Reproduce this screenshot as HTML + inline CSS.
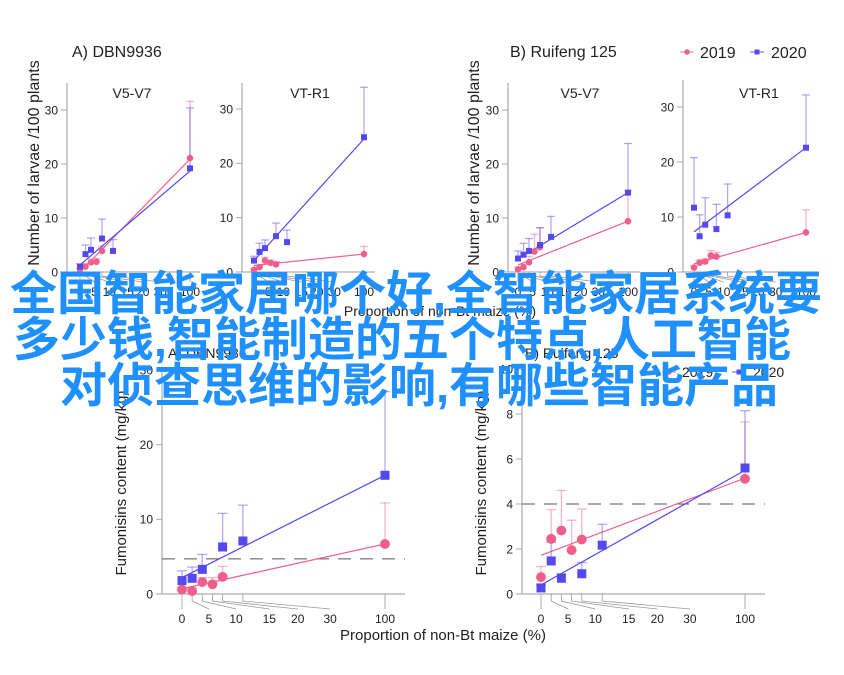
<!DOCTYPE html>
<html><head><meta charset="utf-8"><style>
html,body{margin:0;padding:0;background:#fff;}
#wrap{position:relative;width:844px;height:675px;overflow:hidden;background:#fff;}
svg text{font-family:"Liberation Sans",Arial,sans-serif;fill:#222;}
#overlay{position:absolute;left:0;top:271px;width:844px;font-family:"Liberation Sans","Noto Sans CJK SC",sans-serif;font-weight:bold;font-size:47px;line-height:46px;color:#1e90ff;text-align:center;}
#overlay div{white-space:nowrap;}
</style></head><body>
<div id="wrap">
<svg id="chart" width="844" height="675"></svg>
<div id="overlay">
<div style="margin-left:-12px">全国智能家居哪个好,全智能家居系统要</div>
<div style="margin-left:-40px">多少钱,智能制造的五个特点,人工智能</div>
<div style="margin-left:-6px">对侦查思维的影响,有哪些智能产品</div>
</div>
</div>
<script>
// ---- data ----
const xCats = [0, 5, 10, 15, 20, 30, 100];
const xTickLabels = ["0","5","10","15","20","30","100"];
const x2019 = [0, 5, 10, 15, 20, 100];
const x2020 = [0, 5, 10, 20, 30, 100];
// Panel A V5-V7 (larvae)
const aV5_2019 = [0.5, 1.0, 1.8, 1.9, 3.9, 21.1];
const aV5_2019err = [0.8, 1.5, 2.4, 2.5, 4.8, 31.6];
const aV5_2020 = [1.0, 3.3, 4.1, 6.2, 3.9, 19.2];
const aV5_2020err = [1.5, 5.0, 6.3, 9.8, 6.0, 30.4];
const aV5_fit2019 = [0, 20.9];
const aV5_fit2020 = [1.3, 18.7];
// Panel A VT-R1
const aVT_2019 = [0.4, 0.9, 2.1, 1.7, 1.4, 3.3];
const aVT_2019err = [0.6, 1.2, 2.7, 2.2, 1.9, 4.7];
const aVT_2020 = [2.1, 3.7, 4.4, 6.6, 5.5, 24.8];
const aVT_2020err = [2.9, 5.3, 5.9, 9.0, 7.7, 34.0];
const aVT_fit2019 = [1.2, 3.3];
const aVT_fit2020 = [2.1, 24.5];
// Panel B V5-V7
const bV5_2019 = [0.5, 0.9, 1.8, 3.8, 4.6, 9.4];
const bV5_2019err = [0.9, 1.4, 2.9, 7.0, 8.2, 15.0];
const bV5_2020 = [2.5, 3.2, 3.9, 5.0, 6.5, 14.7];
const bV5_2020err = [3.9, 5.3, 6.2, 8.2, 10.3, 23.8];
const bV5_fit2019 = [1.3, 9.4];
const bV5_fit2020 = [2.4, 14.7];
// Panel B VT-R1
const bVT_2019 = [0.8, 1.7, 1.9, 3.0, 2.8, 7.2];
const bVT_2019err = [1.1, 2.2, 2.4, 3.9, 3.6, 11.3];
const bVT_2020 = [11.7, 6.5, 8.6, 7.8, 10.3, 22.6];
const bVT_2020err = [20.8, 10.4, 13.5, 12.3, 16.0, 32.2];
const bVT_fit2019 = [1.5, 7.2];
const bVT_fit2020 = [7.3, 22.6];
// Fumonisins A
const fA_2019 = [0.6, 0.4, 1.6, 1.3, 2.3, 6.7];
const fA_2019err = [0.9, 0.7, 2.2, 2.2, 3.7, 12.2];
const fA_2020 = [1.8, 2.1, 3.3, 6.3, 7.1, 15.9];
const fA_2020err = [3.1, 3.6, 5.3, 10.8, 11.9, 27.1];
const fA_fit2019 = [0.7, 6.7];
const fA_fit2020 = [2.2, 15.9];
const fA_threshold = 4.7;
// Fumonisins B
const fB_2019 = [0.75, 2.45, 2.82, 1.95, 2.42, 5.12];
const fB_2019err = [1.22, 3.75, 4.6, 3.28, 3.78, 7.65];
const fB_2020 = [0.27, 1.47, 0.7, 0.9, 2.17, 5.6];
const fB_2020err = [0.4, 2.3, 0.9, 1.4, 3.1, 8.15];
const fB_fit2019 = [1.72, 5.15];
const fB_fit2020 = [0.4, 5.5];
const fB_threshold = 4;

const PINK = "#ef5f8c", BLUE = "#5548ee";
const svg = document.getElementById('chart');
const NS = "http://www.w3.org/2000/svg";
function mk(tag, attrs, parent) {
  const e = document.createElementNS(NS, tag);
  for (const k in attrs) e.setAttribute(k, attrs[k]);
  (parent || svg).appendChild(e);
  return e;
}
function txt(s, x, y, size, anchor, parent) {
  const t = mk('text', {x: x, y: y, 'font-size': size, 'text-anchor': anchor || 'start'}, parent);
  t.textContent = s;
  return t;
}
// label fractions for leader-line tick labels (layout)
const labelFrac = [0, 0.133, 0.266, 0.43, 0.57, 0.73, 1];

function panel(cfg) {
  const g = mk('g', {});
  
  
  const xs = v => cfg.x0 + (cfg.x100 - cfg.x0) * v / 100;
  const ys = v => cfg.y0 - (cfg.y0 - cfg.yTop) * v / cfg.yMax;
  // axes
  const ya = mk('line', {x1: cfg.ax, y1: cfg.y0, x2: cfg.ax, y2: cfg.axTop, stroke: '#999', 'stroke-width': 1}, g);
  
  
  const xa = mk('line', {x1: cfg.ax, y1: cfg.y0, x2: cfg.axEnd, y2: cfg.y0, stroke: '#999', 'stroke-width': 1}, g);
  
  
  cfg.yTicks.forEach(v => {
    const y = ys(v);
    const tl = mk('line', {x1: cfg.ax - 6, y1: y, x2: cfg.ax, y2: y, stroke: '#aaa'}, g);
    
    
    const t = txt(String(v), cfg.ax - 9, y + cfg.fs * 0.36, cfg.fs, 'end', g);
    
    
  });
  // x ticks with leader lines
  xCats.forEach((v, i) => {
    const x = xs(v);
    const lx = cfg.x0 + (cfg.x100 - cfg.x0) * labelFrac[i];
    const p = mk('polyline', {points: `${x},${cfg.y0} ${x},${cfg.y0 + cfg.tk} ${lx},${cfg.y0 + cfg.tk + cfg.lead}`, fill: 'none', stroke: '#999', 'stroke-width': 0.8}, g);
    
    
    const t = txt(xTickLabels[i], lx, cfg.y0 + cfg.tk + cfg.lead + cfg.fs + 2, cfg.fs, 'middle', g);
    
    
  });
  if (cfg.sub) {
    const st = txt(cfg.sub, cfg.subX, cfg.subY, 14, 'middle', g);
    
    
  }
  if (cfg.thr !== undefined) {
    const d = mk('line', {x1: cfg.ax, y1: ys(cfg.thr), x2: cfg.axEnd, y2: ys(cfg.thr), stroke: '#555', 'stroke-width': 1, 'stroke-dasharray': '13,9'}, g);
    
    
  }
  const series = [
    {xv: x2019, v: cfg.s19, e: cfg.e19, fit: cfg.f19, c: PINK, shape: 'circle', n: '2019'},
    {xv: x2020, v: cfg.s20, e: cfg.e20, fit: cfg.f20, c: BLUE, shape: 'square', n: '2020'}
  ];
  series.forEach(s => {
    s.v.forEach((v, i) => {
      const x = xs(s.xv[i]);
      const eb = mk('polyline', {points: `${x},${ys(v)} ${x},${ys(s.e[i])}`, stroke: s.c, 'stroke-opacity': 0.45, 'stroke-width': 1.3, fill: 'none'}, g);
      
      
      const cap = mk('line', {x1: x - cfg.cap, y1: ys(s.e[i]), x2: x + cfg.cap, y2: ys(s.e[i]), stroke: s.c, 'stroke-opacity': 0.45, 'stroke-width': 1.3}, g);
      
      
    });
    const fl = mk('line', {x1: xs(0), y1: ys(s.fit[0]), x2: xs(100), y2: ys(s.fit[1]), stroke: s.c, 'stroke-width': 1.2}, g);
    
    
  });
  series.forEach(s => {
    s.v.forEach((v, i) => {
      const x = xs(s.xv[i]), y = ys(v);
      let m;
      if (s.shape === 'circle') m = mk('circle', {cx: x, cy: y, r: cfg.ms * 0.55, fill: s.c}, g);
      else m = mk('rect', {x: x - cfg.ms / 2, y: y - cfg.ms / 2, width: cfg.ms, height: cfg.ms, fill: s.c}, g);
      
      
    });
  });
}

panel({name: 'panel-a-v5v7', ax: 67, axTop: 83, axEnd: 200, y0: 272, yTop: 110, yMax: 30, x0: 80, x100: 190, yTicks: [0,10,20,30], fs: 12, tk: 4, lead: 6, cap: 4, ms: 6, sub: 'V5-V7', subX: 132, subY: 98,
  s19: aV5_2019, e19: aV5_2019err, s20: aV5_2020, e20: aV5_2020err, f19: aV5_fit2019, f20: aV5_fit2020});
panel({name: 'panel-a-vtr1', ax: 242, axTop: 83, axEnd: 375, y0: 272, yTop: 109, yMax: 30, x0: 254, x100: 364, yTicks: [0,10,20,30], fs: 12, tk: 4, lead: 6, cap: 4, ms: 6, sub: 'VT-R1', subX: 310, subY: 98,
  s19: aVT_2019, e19: aVT_2019err, s20: aVT_2020, e20: aVT_2020err, f19: aVT_fit2019, f20: aVT_fit2020});
panel({name: 'panel-b-v5v7', ax: 508, axTop: 83, axEnd: 640, y0: 272, yTop: 110, yMax: 30, x0: 518, x100: 628, yTicks: [0,10,20,30], fs: 12, tk: 4, lead: 6, cap: 4, ms: 6, sub: 'V5-V7', subX: 580, subY: 98,
  s19: bV5_2019, e19: bV5_2019err, s20: bV5_2020, e20: bV5_2020err, f19: bV5_fit2019, f20: bV5_fit2020});
panel({name: 'panel-b-vtr1', ax: 683, axTop: 80, axEnd: 817, y0: 272, yTop: 107, yMax: 30, x0: 694, x100: 806, yTicks: [0,10,20,30], fs: 12, tk: 4, lead: 6, cap: 4, ms: 6, sub: 'VT-R1', subX: 759, subY: 98,
  s19: bVT_2019, e19: bVT_2019err, s20: bVT_2020, e20: bVT_2020err, f19: bVT_fit2019, f20: bVT_fit2020});
panel({name: 'panel-fumonisins-a', ax: 162, axTop: 368, axEnd: 405, y0: 594, yTop: 370, yMax: 30, x0: 182, x100: 385, yTicks: [0,10,20,30], fs: 12, tk: 7, lead: 8, cap: 5, ms: 9, thr: fA_threshold,
  s19: fA_2019, e19: fA_2019err, s20: fA_2020, e20: fA_2020err, f19: fA_fit2019, f20: fA_fit2020});
panel({name: 'panel-fumonisins-b', ax: 522, axTop: 368, axEnd: 765, y0: 594, yTop: 369, yMax: 10, x0: 541, x100: 745, yTicks: [0,2,4,6,8,10], fs: 12, tk: 7, lead: 8, cap: 5, ms: 9, thr: fB_threshold,
  s19: fB_2019, e19: fB_2019err, s20: fB_2020, e20: fB_2020err, f19: fB_fit2019, f20: fB_fit2020});

// titles & labels
function label(s, x, y, size, name, anchor, rot) {
  const t = txt(s, x, y, size, anchor || 'start');
  if (rot) t.setAttribute('transform', `rotate(-90 ${x} ${y})`);
  
  
}
label('A)  DBN9936', 72, 57, 16, 'panel-a-title');
label('B)  Ruifeng 125', 510, 57, 16, 'panel-b-title');
label('A)  DBN9936', 168, 358, 14, 'fumonisins-a-title');
label('B)  Ruifeng 125', 525, 358, 14, 'fumonisins-b-title');
label('Number of larvae /100 plants', 39, 163, 16, 'y-axis-title-a', 'middle', true);
label('Number of larvae /100 plants', 479, 163, 16, 'y-axis-title-b', 'middle', true);
label('Fumonisins content (mg/kg)', 126, 483, 15, 'y-axis-title-fumonisins-a', 'middle', true);
label('Fumonisins content (mg/kg)', 486, 483, 15, 'y-axis-title-fumonisins-b', 'middle', true);
label('Proportion of non-Bt maize (%)', 443, 640, 15, 'x-axis-title', 'middle');
label('Proportion of non-Bt maize (%)', 440, 316, 14, 'x-axis-title-top', 'middle');

// legends
function legend(x, y, fs, ms, name) {
  const g = mk('g', {});
  
  
  mk('line', {x1: x, y1: y, x2: x + 14, y2: y, stroke: PINK, 'stroke-opacity': 0.6, 'stroke-width': 1.5}, g);
  mk('circle', {cx: x + 7, cy: y, r: ms * 0.55, fill: PINK}, g);
  txt('2019', x + 20, y + fs * 0.36, fs, 'start', g);
  mk('line', {x1: x + 70, y1: y, x2: x + 84, y2: y, stroke: BLUE, 'stroke-opacity': 0.6, 'stroke-width': 1.5}, g);
  mk('rect', {x: x + 77 - ms / 2, y: y - ms / 2, width: ms, height: ms, fill: BLUE}, g);
  txt('2020', x + 91, y + fs * 0.36, fs, 'start', g);
}
legend(680, 52, 16, 5, 'legend-top');
legend(662, 372, 14, 5, 'legend-bottom');
</script>
</body></html>
